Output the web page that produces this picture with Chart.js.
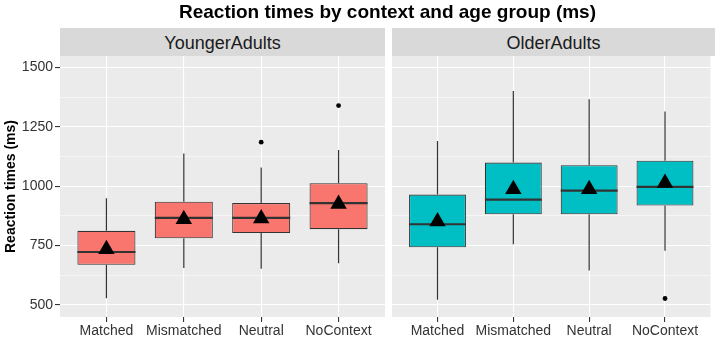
<!DOCTYPE html>
<html><head><meta charset="utf-8">
<script src="https://cdn.jsdelivr.net/npm/chart.js@4/dist/chart.umd.min.js"></script>
<style>
html,body{margin:0;padding:0;background:#fff;}
#wrap{position:relative;width:720px;height:347px;overflow:hidden;font-family:"Liberation Sans",Arial,sans-serif;}
canvas{position:absolute;left:0;top:0;}
.title{position:absolute;left:60px;width:655px;top:2px;text-align:center;font-weight:bold;font-size:19px;line-height:19px;color:#000;white-space:nowrap;}
.strip{position:absolute;top:28px;height:27px;padding-top:1px;line-height:28px;background:#D9D9D9;color:#1A1A1A;font-size:18px;text-align:center;white-space:nowrap;}
</style></head><body>
<div id="wrap">
<canvas id="c1" width="720" height="347"></canvas>
<canvas id="c2" width="720" height="347"></canvas>
<div class="title">Reaction times by context and age group (ms)</div>
<div class="strip" style="left:60px;width:325px;">YoungerAdults</div>
<div class="strip" style="left:392px;width:323px;">OlderAdults</div>
</div>
<script>
// ---- data ----
const CATEGORIES = ['Matched', 'Mismatched', 'Neutral', 'NoContext'];
const Y_MAJOR = [500, 750, 1000, 1250, 1500];
const Y_MINOR = [625, 875, 1125, 1375];
const Y_TICK_LABELS = ['500', '750', '1000', '1250', '1500'];

// YoungerAdults
const YA_MIN  = [528, 656, 652, 676];
const YA_Q1   = [669, 781, 803, 819];
const YA_MED  = [723, 867, 867, 929];
const YA_Q3   = [812, 935, 929, 1013];
const YA_MAX  = [950, 1138, 1079, 1153];
const YA_MEAN = [735, 861, 864, 925];
const YA_OUT_CAT = ['Neutral', 'NoContext'];
const YA_OUT_VAL = [1186, 1340];

// OlderAdults
const OA_MIN  = [522, 756, 645, 728];
const OA_Q1   = [743, 882, 882, 919];
const OA_MED  = [840, 944, 982, 997];
const OA_Q3   = [965, 1100, 1089, 1108];
const OA_MAX  = [1191, 1402, 1367, 1315];
const OA_MEAN = [851, 987, 987, 1014];
const OA_OUT_CAT = ['NoContext'];
const OA_OUT_VAL = [527];

const Y_MIN = 449, Y_MAX = 1549;

Chart.defaults.font.family = '"Liberation Sans", Arial, sans-serif';

function makePanel(id, d, fill, showY, pad) {
  const boxData = CATEGORIES.map((c, i) => ({x: i + 1, y: [d.q1[i], d.q3[i]]}));
  const meanData = CATEGORIES.map((c, i) => ({x: i + 1, y: d.mean[i]}));
  const outData = d.outCat.map((c, j) => ({x: CATEGORIES.indexOf(c) + 1, y: d.outVal[j]}));

  const parts = {
    id: 'boxparts',
    beforeDraw(chart) {
      const a = chart.chartArea, ctx = chart.ctx;
      ctx.save();
      ctx.fillStyle = '#EBEBEB';
      ctx.fillRect(a.left, a.top, a.right - a.left, a.bottom - a.top);
      ctx.restore();
    },
    afterDatasetDraw(chart, args) {
      if (args.meta.type !== 'bar') return;
      const ctx = chart.ctx, ys = chart.scales.y;
      ctx.save();
      ctx.strokeStyle = '#333333';
      args.meta.data.forEach((el, i) => {
        ctx.lineWidth = 1.2;
        ctx.beginPath();
        ctx.moveTo(el.x, ys.getPixelForValue(d.q3[i]));
        ctx.lineTo(el.x, ys.getPixelForValue(d.max[i]));
        ctx.moveTo(el.x, ys.getPixelForValue(d.q1[i]));
        ctx.lineTo(el.x, ys.getPixelForValue(d.min[i]));
        ctx.stroke();
        ctx.lineWidth = 2.2;
        const ym = ys.getPixelForValue(d.med[i]);
        ctx.beginPath();
        ctx.moveTo(el.x - el.width / 2, ym);
        ctx.lineTo(el.x + el.width / 2, ym);
        ctx.stroke();
      });
      ctx.restore();
    }
  };

  return new Chart(document.getElementById(id), {
    type: 'bar',
    data: {
      datasets: [
        {type: 'scatter', data: meanData, pointStyle: 'triangle', radius: 9.5,
         backgroundColor: '#000', borderWidth: 0, order: 0},
        {type: 'scatter', data: outData, pointStyle: 'circle', radius: 2.4,
         backgroundColor: '#000', borderWidth: 0, order: 0},
        {type: 'bar', data: boxData, backgroundColor: fill, borderColor: '#333333',
         borderWidth: 1.1, borderSkipped: false, categoryPercentage: 1, barPercentage: 0.75, order: 1}
      ]
    },
    options: {
      responsive: false, animation: false, events: [],
      layout: {padding: pad},
      plugins: {legend: {display: false}, tooltip: {enabled: false}, title: {display: false}},
      scales: {
        x: {
          type: 'linear', min: 0.4, max: 4.6, offset: false,
          afterBuildTicks: (ax) => { ax.ticks = CATEGORIES.map((c, i) => ({value: i + 1})); },
          afterFit: (ax) => { ax.height = 30; },
          ticks: {callback: (v) => CATEGORIES[v - 1], color: '#333333', font: {size: 14}, padding: 1,
                  maxRotation: 0, autoSkip: false},
          grid: {color: '#FFFFFF', lineWidth: 1.1, offset: false, drawTicks: true, tickLength: 5,
                 tickColor: '#333333', tickWidth: 1.1},
          border: {display: false}
        },
        y: {
          type: 'linear', min: Y_MIN, max: Y_MAX,
          afterBuildTicks: (ax) => { ax.ticks = Y_MAJOR.concat(Y_MINOR).sort((a, b) => a - b).map(v => ({value: v})); },
          afterFit: (ax) => { ax.width = showY ? 60 : 0; },
          ticks: {display: showY, callback: (v) => { const k = Y_MAJOR.indexOf(v); return k >= 0 ? Y_TICK_LABELS[k] : ''; },
                  color: '#333333', font: {size: 14}, padding: 2, autoSkip: false},
          grid: {color: '#FFFFFF', lineWidth: (c) => Y_MAJOR.includes(c.tick.value) ? 1.1 : 0.55,
                 drawTicks: showY, tickLength: 5,
                 tickColor: (c) => Y_MAJOR.includes(c.tick.value) ? '#333333' : 'rgba(0,0,0,0)', tickWidth: 1.1},
          border: {display: false},
          title: {display: showY, text: 'Reaction times (ms)', color: '#000', font: {size: 14, weight: 'bold'},
                  padding: {top: 3, bottom: 0}}
        }
      }
    },
    plugins: [parts]
  });
}

makePanel('c1', {min: YA_MIN, q1: YA_Q1, med: YA_MED, q3: YA_Q3, max: YA_MAX, mean: YA_MEAN,
                 outCat: YA_OUT_CAT, outVal: YA_OUT_VAL}, '#F8766D', true,
          {left: 0, top: 56, right: 335, bottom: 0});
makePanel('c2', {min: OA_MIN, q1: OA_Q1, med: OA_MED, q3: OA_Q3, max: OA_MAX, mean: OA_MEAN,
                 outCat: OA_OUT_CAT, outVal: OA_OUT_VAL}, '#00BFC4', false,
          {left: 392, top: 56, right: 5, bottom: 0});
</script>
</body></html>
